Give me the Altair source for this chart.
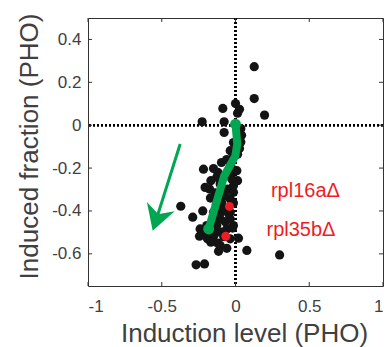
import altair as alt
import pandas as pd

# ---- data ----
bx = [0.127, 0.127, 0.197, 0.000, 0.027, 0.014, -0.086, -0.077, -0.226, -0.077,
      0.036, 0.041, -0.014, 0.036, 0.027, 0.014, -0.095, -0.149, -0.217, -0.032,
      0.009, 0.014, -0.025, -0.059, -0.127, -0.167, -0.104, -0.176, -0.206, -0.138,
      -0.054, -0.014, -0.036, -0.122, -0.093, -0.081, -0.036, -0.149, -0.222, -0.290,
      -0.371, -0.014, -0.195, -0.240, -0.244, -0.127, -0.070, -0.036, -0.059, -0.127,
      -0.149, -0.190, -0.036, 0.020, -0.167, -0.104, -0.059, -0.115, 0.077, 0.299,
      -0.267, -0.210, -0.104, -0.104, -0.149, -0.093, -0.014, -0.172, -0.213, -0.014,
      -0.014, -0.036, -0.036, -0.060, -0.120, -0.090, -0.070, -0.130, -0.110, -0.160,
      -0.080, -0.120, -0.020, -0.170, -0.050]
by = [0.273, 0.124, 0.047, 0.101, 0.074, 0.056, 0.078, 0.016, 0.016, -0.034,
      -0.016, -0.047, -0.081, -0.078, -0.109, -0.135, -0.174, -0.202, -0.205, -0.189,
      -0.212, -0.259, -0.251, -0.228, -0.243, -0.259, -0.274, -0.298, -0.290, -0.316,
      -0.298, -0.313, -0.344, -0.344, -0.363, -0.391, -0.406, -0.406, -0.400, -0.429,
      -0.378, -0.363, -0.468, -0.484, -0.518, -0.468, -0.450, -0.437, -0.484, -0.499,
      -0.518, -0.530, -0.530, -0.527, -0.546, -0.561, -0.574, -0.588, -0.584, -0.605,
      -0.651, -0.647, -0.406, -0.437, -0.437, -0.499, -0.468, -0.499, -0.499, -0.282,
      -0.143, -0.119, -0.220, -0.160, -0.220, -0.300, -0.330, -0.370, -0.420, -0.460,
      -0.520, -0.550, -0.480, -0.340, -0.410]

red_x = [-0.041, -0.066]
red_y = [-0.379, -0.518]

green_x = [0.000, 0.012, -0.002, -0.077, -0.182]
green_y = [0.005, -0.088, -0.144, -0.237, -0.484]

arrow_x = [-0.375, -0.528]
arrow_y = [-0.088, -0.420]
head_x = [-0.534]
head_y = [-0.436]

labels = ["rpl16aΔ", "rpl35bΔ"]
label_x = [0.474, 0.444]
label_y = [-0.336, -0.519]

x_ticks = [-1, -0.5, 0, 0.5, 1]
y_ticks = [-0.6, -0.4, -0.2, 0, 0.2, 0.4]

W, H = 295, 268
GREEN = "#00a651"
TXT = "#404040"
FONT = "Liberation Sans"

xs = alt.Scale(domain=[-1, 1], nice=False, zero=False)
ys = alt.Scale(domain=[-0.75, 0.5], nice=False, zero=False)

dots = pd.DataFrame({"x": bx, "y": by})
reds = pd.DataFrame({"x": red_x, "y": red_y})
green = pd.DataFrame({"x": green_x, "y": green_y, "i": list(range(len(green_x)))})
arrow = pd.DataFrame({"x": arrow_x, "y": arrow_y, "i": [0, 1]})
head = pd.DataFrame({"x": head_x, "y": head_y})
lab = pd.DataFrame({"x": label_x, "y": label_y, "t": labels})
xt = pd.DataFrame({"v": x_ticks})
yt = pd.DataFrame({"v": y_ticks})

X = alt.X("x:Q", scale=xs, axis=alt.Axis(
    values=x_ticks, labelExpr="toString(datum.value)", title="Induction level (PHO)",
    labelPadding=12, titleX=156, titleY=55, titleBaseline="alphabetic"))
Y = alt.Y("y:Q", scale=ys, axis=alt.Axis(
    values=y_ticks, labelExpr="toString(datum.value)", title="Induced fraction (PHO)",
    labelPadding=7, titleX=-51, titleY=128, titleBaseline="alphabetic"))

vline = alt.Chart(xt).mark_rule(color="black", strokeDash=[2, 2], strokeWidth=2).encode(
    x=alt.X(datum=0, scale=xs))
hline = alt.Chart(xt).mark_rule(color="black", strokeDash=[2, 2], strokeWidth=2).encode(
    y=alt.Y(datum=0, scale=ys))

black = alt.Chart(dots).mark_circle(size=85, color="#141414", opacity=1).encode(x=X, y=Y)
red = alt.Chart(reds).mark_circle(size=80, color="#f01c24", opacity=1).encode(
    x=alt.X("x:Q", scale=xs), y=alt.Y("y:Q", scale=ys))
gline = alt.Chart(green).mark_line(color=GREEN, strokeWidth=8, strokeCap="round",
                                   strokeJoin="round").encode(
    x=alt.X("x:Q", scale=xs), y=alt.Y("y:Q", scale=ys), order="i:O")
gpts = alt.Chart(green.iloc[[0, len(green) - 1]]).mark_circle(size=120, color=GREEN, opacity=1).encode(
    x=alt.X("x:Q", scale=xs), y=alt.Y("y:Q", scale=ys))
shaft = alt.Chart(arrow).mark_line(color=GREEN, strokeWidth=3).encode(
    x=alt.X("x:Q", scale=xs), y=alt.Y("y:Q", scale=ys), order="i:O")
ahead = alt.Chart(head).mark_point(
    shape="M0,-0.9L1,0.85L0,0.3L-1,0.85Z", size=576, filled=True, fill=GREEN,
    stroke=GREEN, opacity=1, angle=198.5).encode(
    x=alt.X("x:Q", scale=xs), y=alt.Y("y:Q", scale=ys))
texts = alt.Chart(lab).mark_text(color="#f01c24", font=FONT, fontSize=20, align="center",
                                 baseline="alphabetic").encode(
    x=alt.X("x:Q", scale=xs), y=alt.Y("y:Q", scale=ys), text="t:N")

tk = dict(color="#333333", strokeWidth=1)
tb = alt.Chart(xt).mark_rule(**tk).encode(x=alt.X("v:Q", scale=xs), y=alt.value(H), y2=alt.value(H - 4))
tt = alt.Chart(xt).mark_rule(**tk).encode(x=alt.X("v:Q", scale=xs), y=alt.value(0), y2=alt.value(4))
tl = alt.Chart(yt).mark_rule(**tk).encode(y=alt.Y("v:Q", scale=ys), x=alt.value(0), x2=alt.value(4))
tr = alt.Chart(yt).mark_rule(**tk).encode(y=alt.Y("v:Q", scale=ys), x=alt.value(W), x2=alt.value(W - 4))

chart = alt.layer(vline, hline, black, red, gline, gpts, shaft, ahead, texts, tb, tt, tl, tr).properties(
    width=W, height=H,
    autosize=alt.AutoSizeParams(type="none"),
    padding={"left": 88, "top": 18, "right": 4, "bottom": 61},
    background="white",
).configure_view(stroke="#333333", strokeWidth=1).configure_axis(
    domain=False, ticks=False, grid=False,
    labelFont=FONT, labelFontSize=17, labelColor=TXT,
    titleFont=FONT, titleFontSize=26, titleColor=TXT, titleFontWeight="normal",
)

chart.save("out.html", embed_options={"renderer": "svg", "actions": False})
